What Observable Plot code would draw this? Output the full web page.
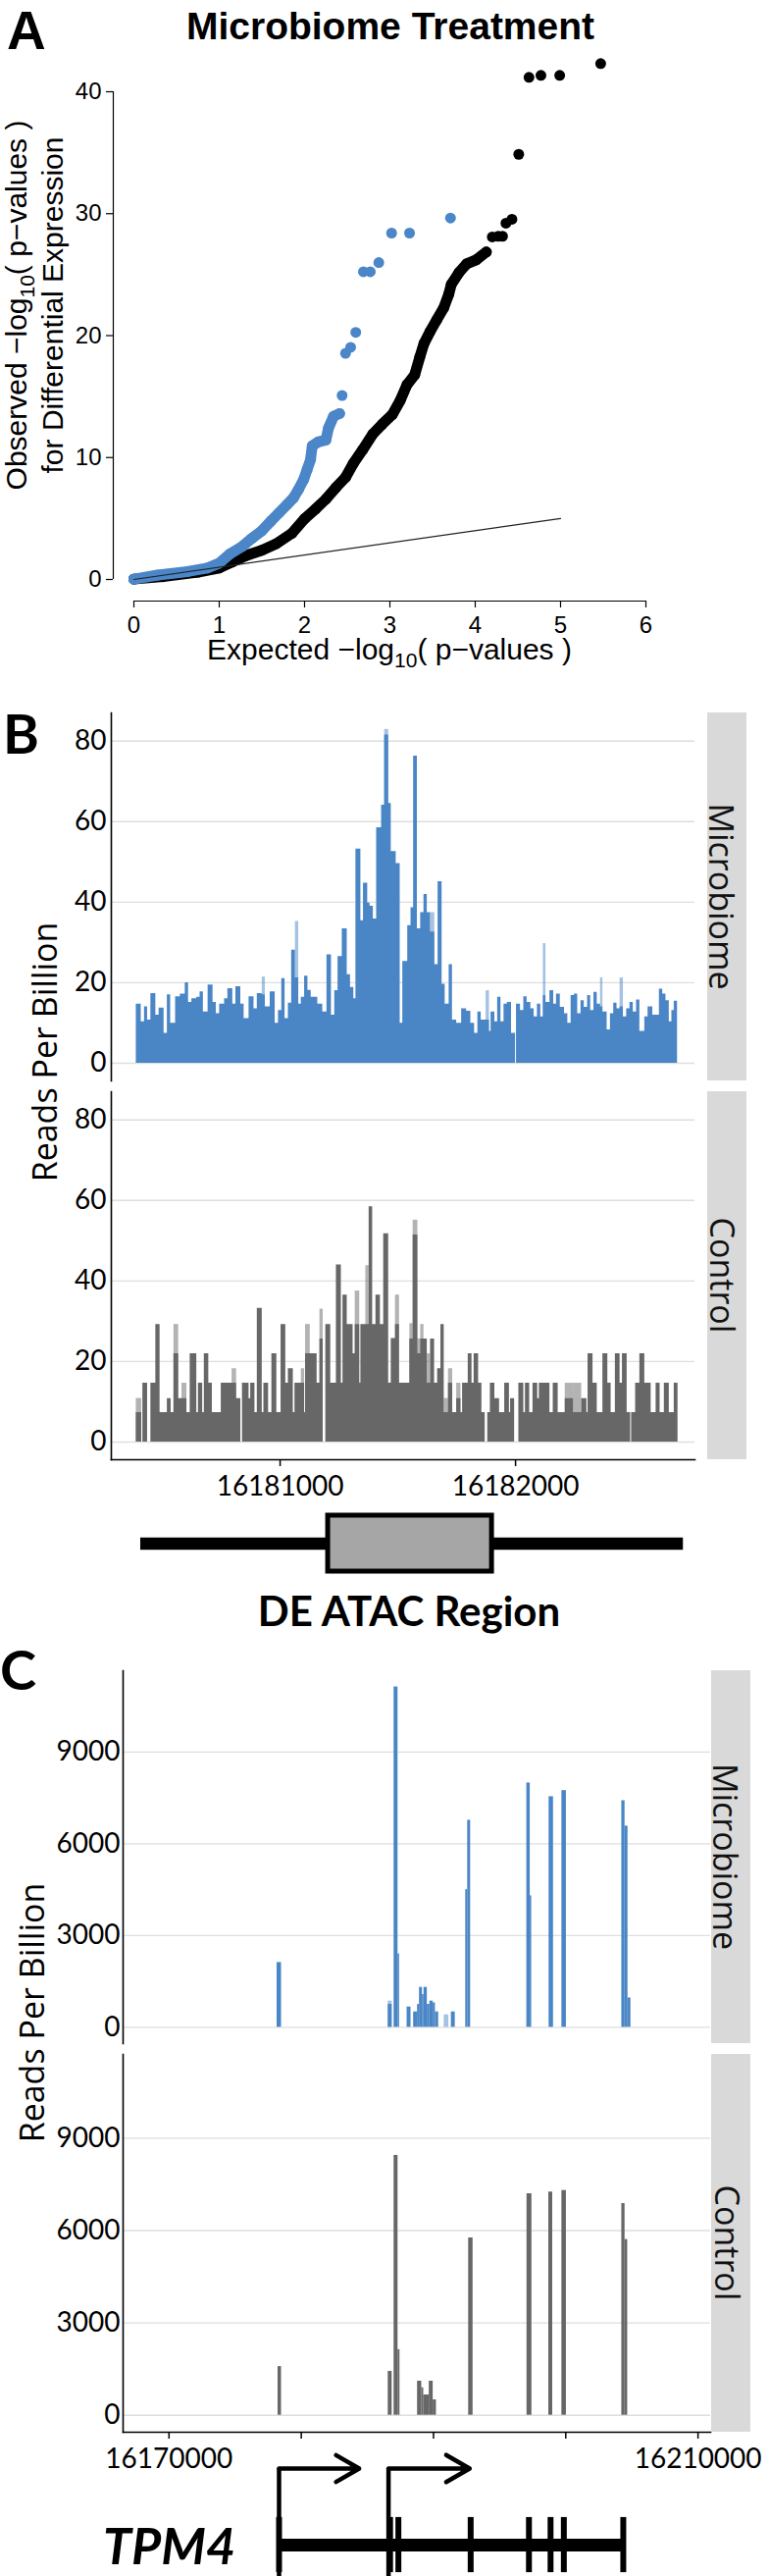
<!DOCTYPE html>
<html><head><meta charset="utf-8">
<script src="https://cdn.jsdelivr.net/npm/d3@7"></script>
<script src="https://cdn.jsdelivr.net/npm/@observablehq/plot@0.6"></script>
<style>
body{margin:0;background:#fff;}
#fig{position:relative;width:784px;height:2625px;overflow:hidden;background:#fff;}
</style></head><body><div id="fig"></div>
<script>
// ---------------- Panel A : QQ plot ----------------
const aXTicks = [0, 1, 2, 3, 4, 5, 6];
const aYTicks = [0, 10, 20, 30, 40];
const aBlackX = [0,0.34,0.75,1.0,1.15,1.32,1.5,1.67,1.85,2.0,2.13,2.25,2.37,2.48,2.57,2.68,2.8,2.91,3.03,3.12,3.2,3.29,3.35,3.4,3.47,3.55,3.63,3.69,3.72,3.81,3.9,4.01,4.13,4.2,4.27,4.32,4.36,4.43,4.51,4.63,4.77,4.99,5.47];
const aBlackY = [0.03,0.23,0.6,0.94,1.42,1.97,2.4,2.94,3.78,4.98,5.79,6.59,7.56,8.37,9.5,10.63,11.93,12.73,13.54,14.67,15.97,16.77,18.23,19.36,20.33,21.3,22.27,23.4,24.21,25.18,25.89,26.21,26.86,28.09,28.15,28.15,29.22,29.54,34.87,41.18,41.34,41.34,42.31];
const aBlueX = [0,0.28,0.63,0.86,1.0,1.12,1.27,1.38,1.5,1.61,1.7,1.79,1.87,1.93,1.99,2.03,2.07,2.09,2.16,2.25,2.28,2.34,2.41,2.44,2.48,2.54,2.6,2.69,2.77,2.87,3.02,3.23,3.71];
const aBlueY = [0.03,0.36,0.65,0.94,1.33,2.07,2.71,3.36,4.0,4.82,5.46,6.11,6.69,7.4,8.21,9.02,9.83,10.96,11.28,11.44,12.41,13.38,13.61,15.09,18.55,19.04,20.27,25.24,25.24,25.99,28.41,28.41,29.64];
const aRefX = [0, 5];
const aRefY = [0, 5];

// ---------------- Panel B : DE ATAC region coverage ----------------
const bXTicks = [16181000, 16182000];
const bYTicks = [0, 20, 40, 60, 80];
const bMbEdges = [16180389,16180410,16180424,16180437,16180451,16180472,16180486,16180507,16180521,16180535,
16180556,16180576,16180597,16180611,16180625,16180646,16180660,16180674,16180694,16180715,
16180729,16180743,16180764,16180778,16180799,16180812,16180833,16180847,16180868,16180889,
16180903,16180924,16180937,16180958,16180979,16180993,16181007,16181021,16181035,16181049,
16181065,16181079,16181090,16181104,16181118,16181132,16181146,16181160,16181181,16181199,
16181218,16181232,16181246,16181264,16181285,16181299,16181313,16181322,16181343,16181354,
16181372,16181382,16181396,16181410,16181431,16181444,16181461,16181472,16181493,16181510,
16181521,
16181542,16181556,16181567,16181583,16181597,16181611,16181625,16181639,16181657,16181671,
16181688,16181701,16181718,16181732,16181750,16181771,16181792,16181810,16181826,16181840,
16181854,16181875,16181889,16181896,16181912,16181924,16181938,16181951,16181965,16181983,
16182000,16182004,16182021,16182035,16182049,16182065,16182079,16182093,16182107,16182118,
16182129,16182146,16182162,16182174,16182190,16182208,16182222,16182236,16182250,16182264,
16182278,16182292,16182306,16182319,16182333,16182347,16182361,16182371,16182389,16182403,
16182417,16182431,16182444,16182458,16182472,16182486,16182500,16182514,16182528,16182549,
16182563,16182583,16182597,16182611,16182625,16182639,16182653,16182664,16182674,16182688];
const bMbValues = [14.7,10.3,14.0,10.7,17.3,11.9,13.7,7.4,17.0,9.9,
16.5,17.2,20.0,15.1,16.0,16.4,17.7,12.7,19.4,15.1,
12.3,14.7,16.0,18.5,14.7,19.0,14.7,11.1,16.5,13.5,
17.3,17.0,14.0,17.7,9.9,13.1,21.0,11.1,14.9,28.1,
21.2,14.7,16.4,21.6,18.1,16.4,16.4,14.7,12.7,26.9,
11.9,18.0,26.5,33.4,22.0,18.8,16.0,53.2,35.4,44.7,
39.8,39.0,35.8,58.5,64.1,81.5,64.5,52.6,49.6,9.9,
25.3,34.2,38.6,76.3,33.4,37.4,41.9,37.4,32.6,24.5,
45.1,19.6,14.7,24.5,10.7,9.9,13.5,12.9,9.9,7.4,
12.7,10.7,10.7,7.9,12.7,10.3,16.4,10.3,14.7,15.1,
7.4,0,14.7,13.1,16.5,15.1,13.5,11.5,14.7,11.5,
16.8,15.1,18.0,14.7,17.2,13.9,12.3,9.9,16.8,17.2,
12.3,15.5,13.9,16.8,13.1,17.6,14.7,14.0,12.7,8.3,
12.3,14.9,13.5,14.0,11.5,13.5,15.1,12.7,15.7,7.9,
11.5,14.0,11.9,11.9,18.4,17.2,15.5,10.3,13.1,15.4];
const bMbLightStart = [16180924,16181065,16181444,16181639,16181875,16182118,16182361,16182444];
const bMbLightEnd   = [16180937,16181079,16181461,16181657,16181889,16182129,16182371,16182458];
const bMbLightValue = [21.4,35.2,82.9,37.4,18.0,29.7,21.2,21.2];

const bCtEdges = [16180389,16180412,16180417,16180437,16180451,16180472,16180490,16180521,16180537,16180549,
16180569,16180583,16180604,16180618,16180646,16180653,16180671,16180678,16180697,16180712,
16180750,16180771,16180796,16180815,16180833,16180840,16180868,16180875,16180893,16180903,
16180924,16180931,16180951,16180965,16180986,16181004,16181024,16181035,16181056,16181063,
16181090,16181104,16181108,16181128,16181157,16181169,16181183,16181194,16181215,16181239,
16181260,16181267,16181285,16181310,16181319,16181338,16181343,16181364,16181378,16181393,
16181407,16181426,16181440,16181461,16181472,16181490,16181507,16181521,
16181551,16181565,16181585,16181597,16181611,16181625,16181639,16181656,16181669,16181683,
16181697,16181715,16181733,16181750,16181768,16181775,16181799,16181815,16181824,16181843,
16181857,16181871,16181882,16181893,16181912,16181932,16181954,16181974,16181979,16181996,
16182014,16182035,16182042,16182060,16182074,16182094,16182101,16182146,16182160,16182181,
16182211,16182246,16182281,16182303,16182308,16182329,16182347,16182371,16182392,16182406,
16182424,16182444,16182454,16182474,16182489,16182493,16182510,16182528,16182549,16182576,
16182597,16182614,16182632,16182653,16182674,16182690];
const bCtValues = [7.3,0,14.6,0,14.6,29.2,7.3,10.8,7.3,21.9,
10.8,10.8,7.3,21.9,7.3,14.6,7.3,21.9,14.6,7.3,
14.6,14.6,14.6,10.8,0,14.6,10.8,14.6,7.3,33.2,
7.3,14.6,7.3,21.9,7.3,29.2,14.6,18.2,7.3,14.6,
14.6,7.3,21.9,21.9,14.6,25.6,0,29.2,14.6,44.0,
14.6,36.5,29.2,21.9,29.2,14.6,29.2,29.2,58.4,29.2,
36.5,29.2,51.7,14.6,25.7,29.2,14.6,
14.6,25.6,51.4,21.9,25.6,25.6,14.6,25.6,14.6,18.2,
29.2,7.3,14.6,7.3,10.8,7.3,14.6,21.9,14.6,21.9,
14.6,7.3,0,7.3,14.6,10.8,7.3,14.6,7.3,10.8,
0,14.6,7.3,14.6,7.3,14.6,10.8,14.6,7.3,14.6,
7.3,10.8,7.3,10.8,7.3,21.9,14.6,7.3,21.9,14.6,
7.3,21.9,14.6,21.9,7.3,0,7.3,14.6,21.9,14.6,
7.3,14.6,7.3,14.6,7.3,14.6];
const bCtLightStart = [16180389,16180549,16180583,16180796,16181090,16181108,16181169,16181319,16181364,16181490,16181551,16181565,16181585,16181597,16181625,16181697,16181715,16181750,16182211,16182246];
const bCtLightEnd   = [16180412,16180569,16180604,16180815,16181104,16181128,16181183,16181338,16181378,16181507,16181565,16181585,16181597,16181611,16181639,16181715,16181733,16181768,16182246,16182281];
const bCtLightValue = [10.8,29.2,14.6,18.2,18.2,29.2,33.0,37.5,43.8,36.5,29.4,55.1,25.6,29.2,21.9,10.8,18.2,14.6,14.6,14.6];
const bRegionSpan = [16180408, 16182713];
const bDeAtac = [16181204, 16181900];

// ---------------- Panel C : TPM4 locus coverage ----------------
const cXTicks = [16170000, 16180000, 16190000, 16200000, 16210000];
const cXTickLabels = ["16170000", "", "", "", "16210000"];
const cYTicks = [0, 3000, 6000, 9000];
const cMbStart = [16178173,16186576,16187020,16187316,16188003,16188497,16188793,16188941,16189163,16189281,16189532,16189724,16189976,16190146,16191350,16192436,16192584,16197055,16197314,16198740,16199708,16204238,16204482,16204704];
const cMbEnd   = [16178506,16186872,16187316,16187434,16188299,16188793,16188941,16189163,16189281,16189532,16189724,16189976,16190146,16190390,16191646,16192584,16192806,16197314,16197425,16199073,16200048,16204482,16204704,16204926];
const cMbValue = [2118,749,11130,2400,664,503,749,1306,1070,1306,749,857,800,503,503,4500,6770,7990,4300,7540,7740,7410,6580,960];
const cMbLightStart = [16186576, 16190811];
const cMbLightEnd   = [16186872, 16191158];
const cMbLightValue = [857, 407];
const cCtStart = [16178247,16186576,16187020,16187316,16188793,16189111,16189259,16189680,16189976,16192658,16197070,16198718,16199708,16204238,16204482];
const cCtEnd   = [16178506,16186872,16187316,16187464,16189111,16189259,16189680,16189976,16190220,16192991,16197440,16199014,16200048,16204482,16204682];
const cCtValue = [1580,1425,8440,2130,1106,892,658,1106,500,5760,7195,7250,7300,6877,5707];
const tpm4Tss = [16178321, 16186598];
const tpm4ArrowEnd = [16184381, 16192733];
const tpm4Span = [16178321, 16204349];
const tpm4Exons = [16178321, 16186716, 16187344, 16192810, 16197217, 16198850, 16199855, 16204349];

// ---------------- styling / layout ----------------
const BLUE = "#4a86c6", GRAY = "#676767", PT_BLUE = "#4a86c8";
const fig = document.getElementById("fig");
function place(svg, top, font) {
  svg.style.position = "absolute";
  svg.style.left = "0px";
  svg.style.top = top + "px";
  svg.style.background = "transparent";
  svg.style.overflow = "visible";
  svg.style.maxWidth = "none";
  svg.style.fontFamily = font;
  svg.style.color = "#000";
  fig.appendChild(svg);
}
const plain = d => String(d);

// Panel A
const blackPts = aBlackX.map((x, i) => ({x, y: aBlackY[i]}));
const bluePts = aBlueX.map((x, i) => ({x, y: aBlueY[i]}));
const refPts = aRefX.map((x, i) => ({x, y: aRefY[i]}));
const plotA = Plot.plot({
  width: 784, height: 700,
  marginLeft: 115, marginRight: 126, marginTop: 93, marginBottom: 88,
  insetLeft: 21, insetBottom: 22,
  x: {domain: [0, 6]}, y: {domain: [0, 40]},
  marks: [
    Plot.line(blackPts.filter(d => d.x <= 4.13), {x: "x", y: "y", stroke: "#000", strokeWidth: 11, strokeLinecap: "round", strokeLinejoin: "round"}),
    Plot.dot(blackPts, {x: "x", y: "y", r: 5.5, fill: "#000"}),
    Plot.line(bluePts.filter(d => d.x <= 2.41), {x: "x", y: "y", stroke: PT_BLUE, strokeWidth: 11, strokeLinecap: "round", strokeLinejoin: "round"}),
    Plot.dot(bluePts, {x: "x", y: "y", r: 5.5, fill: PT_BLUE}),
    Plot.line(refPts, {x: "x", y: "y", stroke: "#222", strokeWidth: 1.2}),
    Plot.ruleX([aXTicks[0]], {y1: aYTicks[0], y2: aYTicks[aYTicks.length - 1], dx: -21, stroke: "#000", strokeWidth: 1.2}),
    Plot.ruleY([aYTicks[0]], {x1: aXTicks[0], x2: aXTicks[aXTicks.length - 1], dy: 22, stroke: "#000", strokeWidth: 1.2}),
    Plot.axisY({ticks: aYTicks, tickFormat: plain, tickSize: 7, tickPadding: 5, label: null, fontSize: 24, strokeWidth: 1.2}),
    Plot.axisX({ticks: aXTicks, tickFormat: plain, tickSize: 7, tickPadding: 8, label: null, fontSize: 24, strokeWidth: 1.2})
  ]
});
place(plotA, 0, "'Liberation Sans', Arial, sans-serif");

// coverage track helper
function track(cfg) {
  const light = cfg.lightValue.map((v, i) => ({x1: cfg.lightStart[i], x2: cfg.lightEnd[i], v}));
  const marks = [
    Plot.gridY(cfg.yTicks, {stroke: "#dedede", strokeOpacity: 1, strokeWidth: 1.4}),
    Plot.rect(light, {x1: "x1", x2: "x2", y1: 0, y2: "v", fill: cfg.color, fillOpacity: 0.5})
  ];
  if (cfg.edges) {
    // contiguous bins: one stepped area so neighbouring bins have no seams
    const steps = cfg.edges.map((e, i) => ({x: e, v: cfg.values[Math.min(i, cfg.values.length - 1)]}));
    marks.push(Plot.area(steps, {x1: "x", y1: 0, y2: "v", curve: "step-after", fill: cfg.color}));
  } else {
    const bins = cfg.values.map((v, i) => ({x1: cfg.starts[i], x2: cfg.ends[i], v}));
    marks.push(Plot.rect(bins, {x1: "x1", x2: "x2", y1: 0, y2: "v", fill: cfg.color}));
  }
  marks.push(
    Plot.frame({anchor: "left", stroke: "#000", strokeWidth: 1.6}),
    Plot.axisY({ticks: cfg.yTicks, tickFormat: plain, tickSize: 0, tickPadding: cfg.yPad, label: null, fontSize: 28})
  );
  if (cfg.xTicks) {
    marks.push(
      Plot.frame({anchor: "bottom", stroke: "#000", strokeWidth: 1.6}),
      Plot.axisX({ticks: cfg.xTicks, tickFormat: cfg.xFormat, tickSize: 7, tickPadding: 10, label: null, fontSize: 28, strokeWidth: 1.5})
    );
  }
  const svg = Plot.plot({
    width: 784, height: cfg.height,
    marginLeft: cfg.ml, marginRight: cfg.mr, marginTop: cfg.mt, marginBottom: cfg.mb,
    x: {domain: cfg.xDomain, axis: null}, y: {domain: cfg.yDomain, axis: null},
    marks
  });
  place(svg, cfg.top, "Lato, 'Open Sans', sans-serif");
}
const bXDomain = [16180283, 16182762];
const bYDomain = [-4.4, 87.0];
track({edges: bMbEdges, values: bMbValues,
  lightStart: bMbLightStart, lightEnd: bMbLightEnd, lightValue: bMbLightValue, color: BLUE,
  yTicks: bYTicks, yPad: 5, xDomain: bXDomain, yDomain: bYDomain,
  top: 706, height: 400, ml: 113, mr: 76, mt: 20, mb: 5});
track({edges: bCtEdges, values: bCtValues,
  lightStart: bCtLightStart, lightEnd: bCtLightEnd, lightValue: bCtLightValue, color: GRAY,
  yTicks: bYTicks, yPad: 5, xDomain: bXDomain, yDomain: bYDomain,
  xTicks: bXTicks, xFormat: plain,
  top: 1092, height: 450, ml: 113, mr: 76, mt: 20, mb: 55});

// B gene-region model
const bModel = Plot.plot({
  width: 784, height: 75, marginLeft: 113, marginRight: 76, marginTop: 9, marginBottom: 9,
  x: {domain: bXDomain, axis: null}, y: {domain: ["region"], padding: 0, axis: null},
  marks: [
    Plot.ruleY(["region"], {y: d => d, x1: bRegionSpan[0], x2: bRegionSpan[1], stroke: "#000", strokeWidth: 12.5}),
    Plot.barX(["region"], {y: d => d, x1: bDeAtac[0], x2: bDeAtac[1], fill: "#a6a6a6", stroke: "#000", strokeWidth: 5})
  ]
});
place(bModel, 1535, "Lato, sans-serif");

// Panel C
const cXDomain = [16166529, 16210955];
const cLabelMap = new Map(cXTicks.map((t, i) => [t, cXTickLabels[i]]));
track({starts: cMbStart, ends: cMbEnd, values: cMbValue,
  lightStart: cMbLightStart, lightEnd: cMbLightEnd, lightValue: cMbLightValue, color: BLUE,
  yTicks: cYTicks, yPad: 3, xDomain: cXDomain, yDomain: [-533, 11661],
  top: 1690, height: 397, ml: 125, mr: 60, mt: 12, mb: 5});
track({starts: cCtStart, ends: cCtEnd, values: cCtValue,
  lightStart: [], lightEnd: [], lightValue: [], color: GRAY,
  yTicks: cYTicks, yPad: 3, xDomain: cXDomain, yDomain: [-552, 11722],
  xTicks: cXTicks, xFormat: d => cLabelMap.get(d),
  top: 2088, height: 437, ml: 125, mr: 60, mt: 5, mb: 47});

// TPM4 gene model
const cModel = Plot.plot({
  width: 784, height: 135, marginLeft: 125, marginRight: 60, marginTop: 0, marginBottom: 0,
  x: {domain: cXDomain, axis: null}, y: {domain: [-0.41, 1.32], axis: null},
  marks: [
    Plot.ruleY([0], {x1: tpm4Span[0], x2: tpm4Span[1], stroke: "#000", strokeWidth: 13}),
    Plot.ruleX(tpm4Exons, {x: d => d, y1: -0.36, y2: 0.36, stroke: "#000", strokeWidth: 6}),
    Plot.ruleX(tpm4Tss, {x: d => d, y1: 1, y2: -0.41, stroke: "#000", strokeWidth: 4.5}),
    Plot.arrow(tpm4Tss.map((t, i) => ({a: t, b: tpm4ArrowEnd[i]})), {x1: "a", x2: "b", y1: 1, y2: 1, stroke: "#000", strokeWidth: 4.5, headLength: 10, headAngle: 60})
  ]
});
place(cModel, 2490, "Lato, sans-serif");

// ---------------- overlay: strips, titles, labels ----------------
const ov = d3.create("svg").attr("width", 784).attr("height", 2625)
  .style("position", "absolute").style("left", "0px").style("top", "0px");
const strips = [
  {x: 721, y: 726, w: 40, h: 375, label: "Microbiome", tx: 723},
  {x: 721, y: 1112, w: 40, h: 375, label: "Control", tx: 724},
  {x: 725, y: 1702, w: 40, h: 380, label: "Microbiome", tx: 727},
  {x: 725, y: 2093, w: 40, h: 385, label: "Control", tx: 729}
];
for (const s of strips) {
  ov.append("rect").attr("x", s.x).attr("y", s.y).attr("width", s.w).attr("height", s.h).attr("fill", "#d9d9d9");
  ov.append("text").attr("transform", `translate(${s.tx},${s.y + s.h / 2}) rotate(90)`)
    .attr("text-anchor", "middle").attr("font-family", "'Open Sans', sans-serif").attr("font-size", 34)
    .attr("fill", "#111").text(s.label);
}
function text(x, y, str, o = {}) {
  const t = ov.append("text").attr("x", x).attr("y", y)
    .attr("font-family", o.family || "'Liberation Sans', Arial, sans-serif")
    .attr("font-size", o.size || 30).attr("font-weight", o.weight || "normal")
    .attr("font-style", o.style || "normal")
    .attr("text-anchor", o.anchor || "start").attr("fill", "#000");
  if (o.rotate != null) t.attr("x", null).attr("y", null).attr("transform", `translate(${x},${y}) rotate(${o.rotate})`);
  if (str) t.text(str);
  return t;
}
function logLabel(t, prefix, size) {
  t.append("tspan").text(prefix + "\u2212log");
  t.append("tspan").attr("font-size", size * 0.7).attr("dy", size * 0.25).text("10");
  t.append("tspan").attr("dy", -size * 0.25).text("( p\u2212values )");
}
text(7, 50, "A", {size: 55, weight: "bold"});
text(398, 40, "Microbiome Treatment", {size: 39, weight: "bold", anchor: "middle"});
logLabel(text(27, 311, null, {size: 30, anchor: "middle", rotate: -90}), "Observed ", 30);
text(64, 311, "for Differential Expression", {size: 30, anchor: "middle", rotate: -90});
logLabel(text(397, 672, null, {size: 30, anchor: "middle"}), "Expected ", 30);

text(3, 768, "B", {size: 56, weight: "bold", family: "Lato, sans-serif"});
text(58, 1072, "Reads Per Billion", {size: 34, anchor: "middle", rotate: -90, family: "'Open Sans', sans-serif"});
text(417, 1657, "DE ATAC Region", {size: 42, weight: "bold", anchor: "middle", family: "Lato, sans-serif"});

text(0, 1722, "C", {size: 56, weight: "bold", family: "Lato, sans-serif"});
text(45, 2051, "Reads Per Billion", {size: 34, anchor: "middle", rotate: -90, family: "'Open Sans', sans-serif"});
text(105, 2613, "TPM4", {size: 52, weight: "bold", style: "italic", family: "Lato, sans-serif"});

fig.appendChild(ov.node());
</script></body></html>
